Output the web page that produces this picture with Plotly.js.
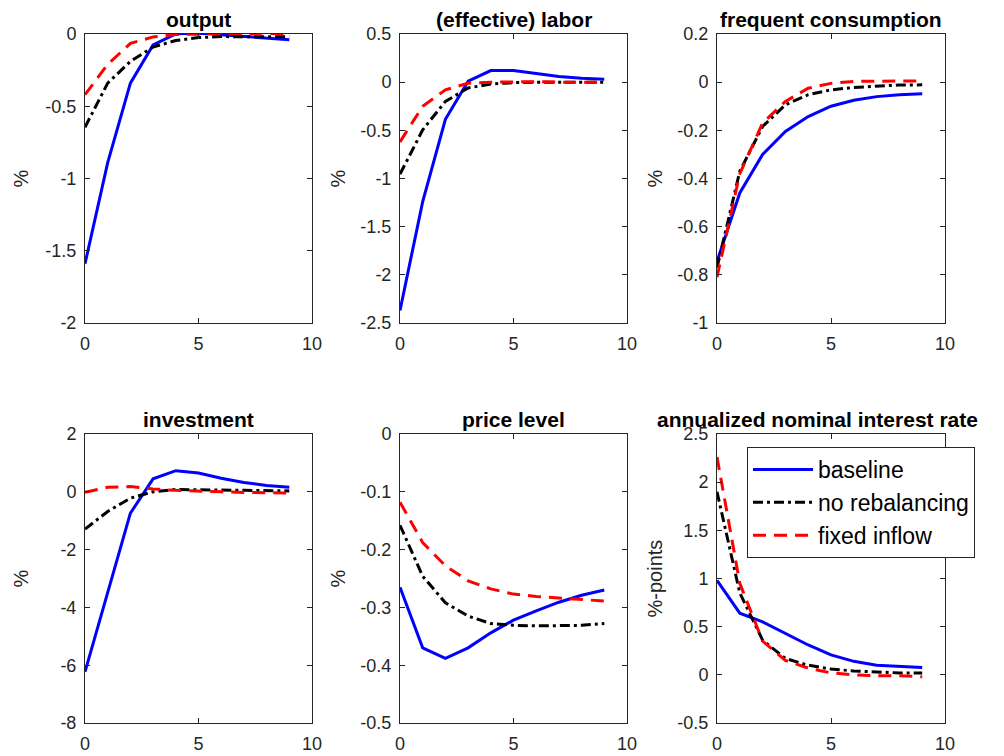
<!DOCTYPE html>
<html><head><meta charset="utf-8">
<script src="https://cdn.plot.ly/plotly-3.0.1.min.js"></script>
<style>body{margin:0;background:#fff}#c{width:1004px;height:756px}</style>
</head><body><div id="c"></div>
<script>
const periods = [0,1,2,3,4,5,6,7,8,9];
const seriesNames = ['baseline','no rebalancing','fixed inflow'];
const panelTitles = ['output','(effective) labor','frequent consumption','investment','price level','annualized nominal interest rate'];
const yTitles = ['%','%','%','%','%','%-points'];
const xTickVals = [0,5,10];

const outputBase  = [-1.59,-0.89,-0.34,-0.076,0.0,0.01,-0.005,-0.015,-0.025,-0.04];
const outputNoReb = [-0.645,-0.34,-0.19,-0.09,-0.045,-0.025,-0.018,-0.02,-0.02,-0.02];
const outputFixed = [-0.42,-0.21,-0.065,-0.02,-0.003,0.0,0.003,0.005,0.005,0.0];

const laborBase  = [-2.37,-1.24,-0.385,0.01,0.12,0.12,0.09,0.06,0.04,0.03];
const laborNoReb = [-0.955,-0.495,-0.2,-0.06,-0.02,-0.005,0.0,0.0,0.0,0.0];
const laborFixed = [-0.62,-0.25,-0.08,-0.01,0.0,0.005,0.005,0.0,0.0,0.0];

const consBase  = [-0.745,-0.46,-0.30,-0.205,-0.143,-0.10,-0.075,-0.06,-0.052,-0.048];
const consNoReb = [-0.77,-0.37,-0.184,-0.094,-0.052,-0.032,-0.022,-0.016,-0.012,-0.011];
const consFixed = [-0.81,-0.38,-0.17,-0.08,-0.025,-0.005,0.003,0.005,0.005,0.005];

const invBase  = [-6.23,-3.46,-0.74,0.45,0.73,0.65,0.47,0.32,0.22,0.16];
const invNoReb = [-1.29,-0.68,-0.22,0.0,0.08,0.08,0.06,0.05,0.04,0.03];
const invFixed = [-0.02,0.16,0.18,0.1,0.05,0.02,0.0,-0.02,-0.03,-0.04];

const priceBase  = [-0.265,-0.37,-0.388,-0.37,-0.344,-0.322,-0.306,-0.291,-0.279,-0.27];
const priceNoReb = [-0.158,-0.246,-0.292,-0.315,-0.328,-0.331,-0.332,-0.332,-0.331,-0.328];
const priceFixed = [-0.118,-0.188,-0.228,-0.254,-0.268,-0.277,-0.281,-0.284,-0.287,-0.289];

const rateBase  = [0.98,0.64,0.55,0.43,0.31,0.207,0.14,0.10,0.09,0.076];
const rateNoReb = [1.9,0.85,0.36,0.17,0.1,0.06,0.04,0.03,0.02,0.02];
const rateFixed = [2.26,0.95,0.35,0.15,0.07,0.02,0.0,-0.01,-0.01,-0.02];

const yRanges = [[-2,0],[-2.5,0.5],[-1,0.2],[-8,2],[-0.5,0],[-0.5,2.5]];
const yDticks = [0.5,0.5,0.2,2,0.1,0.5];

const panels = [
  [outputBase,outputNoReb,outputFixed],
  [laborBase,laborNoReb,laborFixed],
  [consBase,consNoReb,consFixed],
  [invBase,invNoReb,invFixed],
  [priceBase,priceNoReb,priceFixed],
  [rateBase,rateNoReb,rateFixed]
];

const styles = [
  {color:'#0000ff', width:3, dash:'solid'},
  {color:'#000000', width:3, dash:'10px,4px,3px,4px'},
  {color:'#ff0000', width:3, dash:'13px,8px'}
];

const xDom = [[85/1004,312/1004],[400/1004,627/1004],[717/1004,945/1004]];
const yDom = [[1-323/756,1-34/756],[1-723/756,1-434/756]];
const titleCx = [198.5,513.5,831,198.5,513.5,817];

const FONT = 'Liberation Sans, Arial, Helvetica, sans-serif';
const traces = [];
const layout = {
  width:1004, height:756,
  margin:{l:0,r:0,t:0,b:0},
  paper_bgcolor:'#fff', plot_bgcolor:'#fff',
  font:{family:FONT, size:18, color:'#262626'},
  showlegend:true,
  legend:{x:747/1004, y:1-447/756, xanchor:'left', yanchor:'top',
          bgcolor:'#fff', bordercolor:'#262626', borderwidth:1, itemwidth:60,
          font:{size:23, color:'#000', family:FONT}, tracegroupgap:0},
  annotations:[]
};

function ticksFor(r, dt){
  const vals=[], txt=[];
  const n = Math.round((r[1]-r[0])/dt);
  for(let k=0;k<=n;k++){
    const v = Math.round((r[0]+k*dt)*1e6)/1e6;
    vals.push(v); txt.push(String(v));
  }
  return {vals, txt};
}

panels.forEach((p,i)=>{
  const k = i+1;
  const xa = k===1?'x':'x'+k, ya = k===1?'y':'y'+k;
  p.forEach((vals,j)=>{
    traces.push({x:periods, y:vals, xaxis:xa, yaxis:ya, mode:'lines',
      name:seriesNames[j], showlegend:(i===5), line:styles[j], hoverinfo:'skip'});
  });
  const col = i%3, row = Math.floor(i/3);
  const axCommon = {showgrid:false, zeroline:false, showline:true, mirror:'ticks',
    linecolor:'#262626', linewidth:1, ticks:'inside', ticklen:5, tickcolor:'#262626',
    tickfont:{size:18,color:'#262626',family:FONT}};
  const yt = ticksFor(yRanges[i], yDticks[i]);
  layout[k===1?'xaxis':'xaxis'+k] = Object.assign({}, axCommon, {
    domain:xDom[col], range:[0,10], tickmode:'array', tickvals:xTickVals,
    ticktext:xTickVals.map(String), ticklabelstandoff:4, anchor:ya, fixedrange:true});
  layout[k===1?'yaxis':'yaxis'+k] = Object.assign({}, axCommon, {
    domain:yDom[row], range:yRanges[i], tickmode:'array', tickvals:yt.vals, ticktext:yt.txt,
    ticklabelstandoff:4, anchor:xa, fixedrange:true});
  layout.annotations.push({text:'<b>'+panelTitles[i]+'</b>', xref:'paper', yref:'paper',
    x:titleCx[i]/1004, y:yDom[row][1], xanchor:'center', yanchor:'bottom', yshift:1, showarrow:false,
    font:{size:21,color:'#000',family:FONT}});
  const ytx = [20,337,654][col];
  layout.annotations.push({text:yTitles[i], xref:'paper', yref:'paper',
    x:ytx/1004, y:(yDom[row][0]+yDom[row][1])/2, xanchor:'center', yanchor:'middle',
    textangle:-90, showarrow:false, font:{size:20,color:'#262626',family:FONT}});
});

Plotly.newPlot('c', traces, layout, {staticPlot:true, displayModeBar:false});
</script></body></html>
